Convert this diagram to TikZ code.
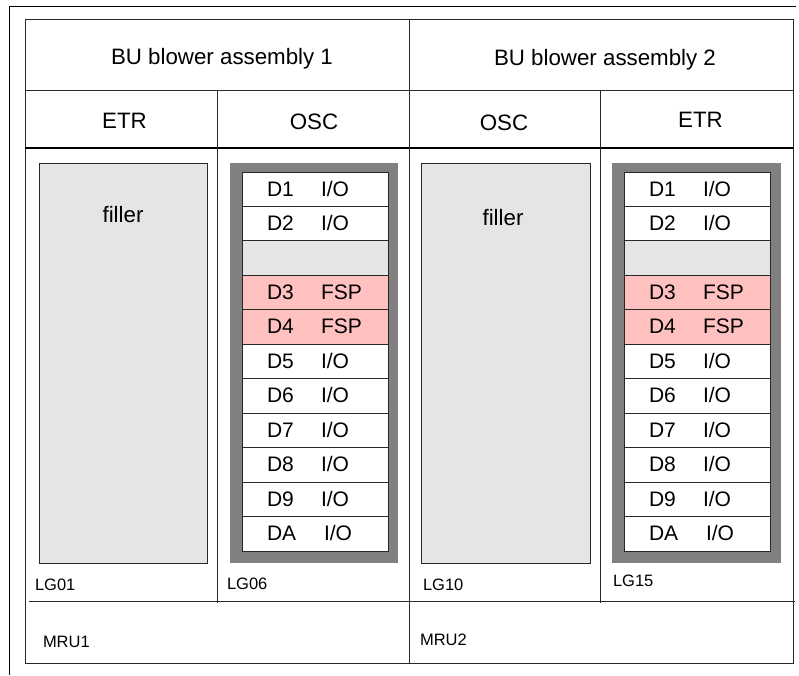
\documentclass[tikz,border=0pt]{standalone}
\usepackage{fontspec}
\setmainfont{Liberation Sans}
\definecolor{pinkrow}{RGB}{255,192,192}
\definecolor{lightgr}{RGB}{229,229,229}
\definecolor{darkgr}{RGB}{128,128,128}
\definecolor{linec}{RGB}{40,40,40}
\def\IO{I/O}
\begin{document}
\begin{tikzpicture}[x=1pt,y=-1pt,
  ln/.style={draw=linec, line width=1pt},
  thickln/.style={draw=black, line width=1.8pt},
  big/.style={font=\fontsize{21}{25}\selectfont, inner sep=0pt, outer sep=0pt},
  head/.style={font=\fontsize{22.3}{26}\selectfont, inner sep=0pt, outer sep=0pt},
  small/.style={font=\fontsize{16.5}{20}\selectfont, inner sep=0pt, outer sep=0pt},
  fillerbox/.style={draw=linec, fill=lightgr, line width=1pt, inner sep=0pt, outer sep=0pt, anchor=north west},
  modbox/.style={fill=darkgr, draw=none, inner sep=0pt, outer sep=0pt, anchor=north west},
  slotbox/.style={draw=linec, line width=0.9pt, inner sep=0pt, outer sep=0pt, anchor=north west, minimum width=146pt, minimum height=34.45pt}
]
\useasboundingbox (0,0) rectangle (799,675);
% outer partial frame
\coordinate (fa) at (9,675);
\coordinate (fb) at (9,6);
\coordinate (fc) at (796,6);
\draw[black, line width=1pt] (fa) -- (fb) -- (fc);
% table
\node[draw=linec, line width=1pt, minimum width=768pt, minimum height=644pt, inner sep=0pt, outer sep=0pt, anchor=north west] (tab) at (25,19) {};
\coordinate (h1l) at (25,90); \coordinate (h1r) at (793,90);
\draw[ln] (h1l) -- (h1r);
\coordinate (h2l) at (25,148); \coordinate (h2r) at (793,148);
\draw[thickln] (h2l) -- (h2r);
\coordinate (vmt) at (409,19); \coordinate (vmb) at (409,663);
\draw[ln] (vmt) -- (vmb);
\coordinate (v1t) at (217,90); \coordinate (v1b) at (217,603);
\draw[ln] (v1t) -- (v1b);
\coordinate (v2t) at (600,90); \coordinate (v2b) at (600,603);
\draw[ln] (v2t) -- (v2b);
\coordinate (hml) at (29,601); \coordinate (hmr) at (795,601);
\draw[ln] (hml) -- (hmr);
% headers
\node[head, anchor=base] (bu1) at (222,64) {BU blower assembly 1};
\node[head, anchor=base] (bu2) at (605,65) {BU blower assembly 2};
\node[head, anchor=base] (etr1) at (124.5,128.3) {ETR};
\node[head, anchor=base] (osc1) at (314,129) {OSC};
\node[head, anchor=base] (osc2) at (504,130.5) {OSC};
\node[head, anchor=base] (etr2) at (700.5,127.7) {ETR};
% fillers
\node[fillerbox, minimum width=168pt, minimum height=400pt] (fill1) at (39,163) {};
\node[fillerbox, minimum width=169pt, minimum height=400pt] (fill2) at (421,163) {};
\node[head, anchor=base] (ft1) at (123,222.5) {filler};
\node[head, anchor=base] (ft2) at (503,225) {filler};
% modules
\node[modbox, minimum width=168pt, minimum height=400pt] (mod1) at (230,163) {};
\node[modbox, minimum width=169pt, minimum height=400pt] (mod2) at (612,163) {};
\foreach \m/\x in {a/242,b/624}{
  \foreach \i/\d/\v/\c/\dx in {0/D1/\IO/white/79,1/D2/\IO/white/79,2/{}/{}/lightgr/79,3/D3/FSP/pinkrow/79,4/D4/FSP/pinkrow/79,5/D5/\IO/white/79,6/D6/\IO/white/79,7/D7/\IO/white/79,8/D8/\IO/white/79,9/D9/\IO/white/79,10/DA/\IO/white/82}{
    \pgfmathsetmacro\yt{172+\i*34.45}
    \pgfmathsetmacro\yb{\yt+24}
    \node[slotbox, fill=\c] (row\m\i) at (\x,\yt) {};
    \node[big, anchor=base west] (d\m\i) at (\x+25,\yb) {\d};
    \node[big, anchor=base west] (v\m\i) at (\x+\dx,\yb) {\v};
  }
}
% labels
\node[small, anchor=base west] (lg01) at (35,590.5) {LG01};
\node[small, anchor=base west] (lg06) at (227,589) {LG06};
\node[small, anchor=base west] (lg10) at (423,590) {LG10};
\node[small, anchor=base west] (lg15) at (613,586.7) {LG15};
\node[small, anchor=base west] (mru1) at (43,647) {MRU1};
\node[small, anchor=base west] (mru2) at (420,645.7) {MRU2};
\end{tikzpicture}
\end{document}
